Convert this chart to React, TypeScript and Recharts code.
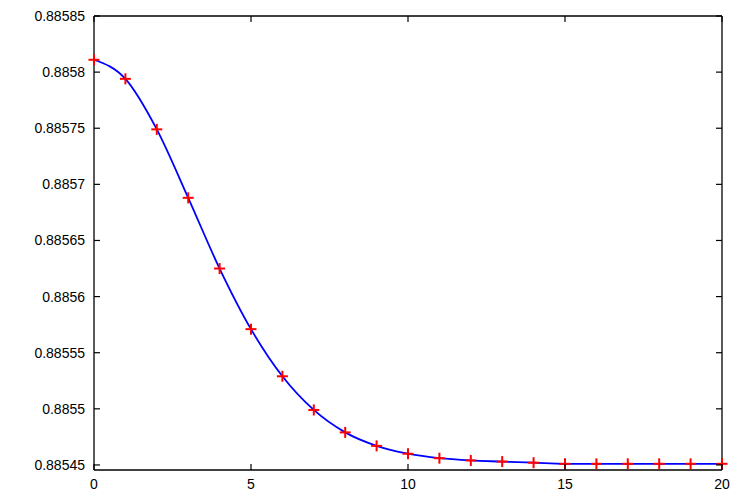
import { LineChart, Line, XAxis, YAxis } from "recharts";

const xValues = [0, 1, 2, 3, 4, 5, 6, 7, 8, 9, 10, 11, 12, 13, 14, 15, 16, 17, 18, 19, 20];
const yValues = [
  0.885811, 0.885794, 0.885749, 0.885688, 0.885625, 0.885571, 0.885529, 0.885499,
  0.885479, 0.885467, 0.88546, 0.885456, 0.885454, 0.885453, 0.885452, 0.885451,
  0.885451, 0.885451, 0.885451, 0.885451, 0.885451,
];
const xTicks = [0, 5, 10, 15, 20];
const yTicks = [0.88545, 0.8855, 0.88555, 0.8856, 0.88565, 0.8857, 0.88575, 0.8858, 0.88585];

const data = xValues.map((x, i) => ({ x, y: yValues[i] }));

const GAP = 9;
const TICK_LEN = 6;
const FONT = "'Liberation Sans', Arial, Helvetica, sans-serif";

const fmt = (v: number) => Number(v.toFixed(5)).toString();

// gnuplot-style ticks: label outside the box, tick mark pointing inward
function LeftTick({ x, y, payload }: any) {
  return (
    <g>
      <line x1={x + GAP} x2={x + GAP + TICK_LEN} y1={y} y2={y} stroke="#000" strokeWidth={1.2} />
      <text x={x} y={y} dy="0.355em" textAnchor="end" fontSize={14} fontFamily={FONT} fill="#000">
        {fmt(payload.value)}
      </text>
    </g>
  );
}

function RightTick({ x, y }: any) {
  return <line x1={x - GAP} x2={x - GAP - TICK_LEN} y1={y} y2={y} stroke="#000" strokeWidth={1.2} />;
}

function BottomTick({ x, y, payload }: any) {
  return (
    <g>
      <line x1={x} x2={x} y1={y - GAP} y2={y - GAP - TICK_LEN} stroke="#000" strokeWidth={1.2} />
      <text x={x} y={y} dy="0.71em" textAnchor="middle" fontSize={14} fontFamily={FONT} fill="#000">
        {payload.value}
      </text>
    </g>
  );
}

function TopTick({ x, y }: any) {
  return <line x1={x} x2={x} y1={y + GAP} y2={y + GAP + TICK_LEN} stroke="#000" strokeWidth={1.2} />;
}

function PlusDot({ cx, cy }: any) {
  if (cx == null || cy == null) return null;
  return (
    <g>
      <line x1={cx - 5.5} x2={cx + 5.5} y1={cy} y2={cy} stroke="#ff0000" strokeWidth={2} />
      <line x1={cx} x2={cx} y1={cy - 5.5} y2={cy + 5.5} stroke="#ff0000" strokeWidth={2} />
    </g>
  );
}

export default function App() {
  const yDomain = [0.8854455, 0.88585];
  return (
    <div style={{ position: "fixed", left: 0, top: 0, background: "#fff" }}>
      <LineChart width={747} height={498} data={data} margin={{ top: 15, right: 24, bottom: 0, left: 0 }}>
        <XAxis xAxisId="b" dataKey="x" type="number" domain={[0, 20]} ticks={xTicks} height={28}
          tickSize={0} tickMargin={GAP} tick={<BottomTick />} axisLine={{ stroke: "#000", strokeWidth: 1.3 }} tickLine={false} />
        <XAxis xAxisId="t" orientation="top" dataKey="x" type="number" domain={[0, 20]} ticks={xTicks} height={1}
          tickSize={0} tickMargin={GAP} tick={<TopTick />} axisLine={{ stroke: "#000", strokeWidth: 1.3 }} tickLine={false} />
        <YAxis yAxisId="l" type="number" domain={yDomain} ticks={yTicks} width={94}
          tickSize={0} tickMargin={GAP} tick={<LeftTick />} axisLine={{ stroke: "#000", strokeWidth: 1.3 }} tickLine={false} allowDataOverflow />
        <YAxis yAxisId="r" orientation="right" type="number" domain={yDomain} ticks={yTicks} width={1}
          tickSize={0} tickMargin={GAP} tick={<RightTick />} axisLine={{ stroke: "#000", strokeWidth: 1.3 }} tickLine={false} allowDataOverflow />
        <Line xAxisId="b" yAxisId="l" dataKey="y" type="monotone" stroke="#0000ff" strokeWidth={1.8}
          dot={false} activeDot={false} isAnimationActive={false} />
        <Line xAxisId="b" yAxisId="l" dataKey="y" stroke="none" dot={<PlusDot />} activeDot={false} isAnimationActive={false} />
      </LineChart>
    </div>
  );
}
